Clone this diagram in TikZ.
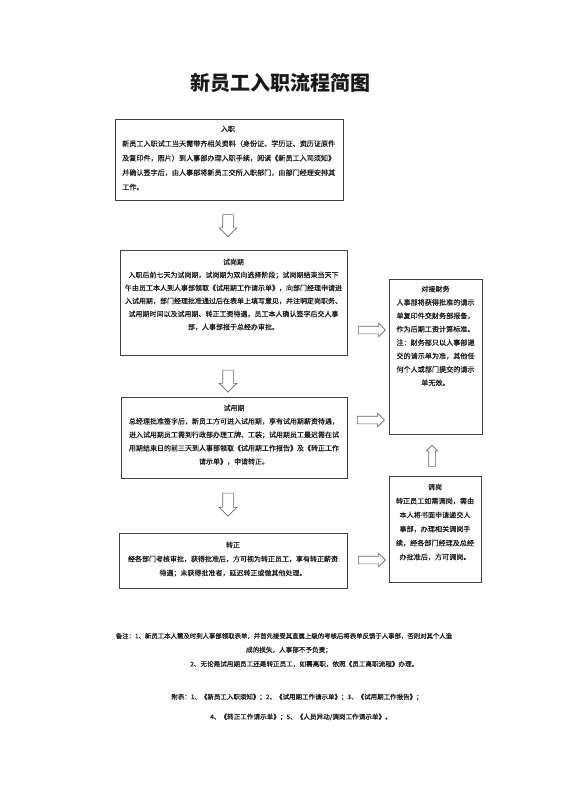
\documentclass[tikz,border=0pt]{standalone}
\usepackage{fontspec}
\setmainfont{Noto Sans CJK SC}
\newfontfamily\medfont[FakeBold=0.25]{Noto Sans CJK SC}
\usetikzlibrary{shapes.arrows}
\begin{document}
\begin{tikzpicture}[x=1pt,y=-1pt,
  box/.style={draw=black!75, line width=0.7pt, inner sep=0pt},
  txt/.style={inner sep=0pt, align=center, text=black!90},
  barrow/.style={single arrow, draw=black!60, fill=white, line width=0.6pt, inner sep=0pt, text depth=0pt, single arrow tip angle=90},
]
\useasboundingbox (0,0) rectangle (560,792);
\node[txt, font={\fontsize{20pt}{24pt}\selectfont\bfseries}] (title) at (280,83) {新员工入职流程简图};

% main boxes
\node[box, minimum width=228pt, minimum height=81pt] (b1) at (229,159.5) {};
\node[box, minimum width=227pt, minimum height=105pt] (b2) at (233.5,302.5) {};
\node[box, minimum width=226pt, minimum height=81pt] (b3) at (234,437.5) {};
\node[box, minimum width=228pt, minimum height=55pt] (b4) at (233,560.5) {};
\node[box, minimum width=93pt, minimum height=155pt] (rb1) at (435.5,356.5) {};
\node[box, minimum width=92pt, minimum height=106pt] (rb2) at (435,529) {};

% texts
\node[txt, anchor=north, font={\medfont\fontsize{7.1pt}{14.5pt}\selectfont}] (t1h) at (228,125.5) {入职};
\node[txt, anchor=north west, align=left, font={\medfont\fontsize{7.1pt}{14.5pt}\selectfont}] (t1) at (122,140) {新员工入职试工当天需带齐相关资料（身份证、学历证、资历证原件\\及复印件，照片）到人事部办理入职手续，阅读《新员工入司须知》\\并确认签字后，由人事部将新员工交所入职部门，由部门经理安排其\\工作。};

\node[txt, anchor=north, font={\medfont\fontsize{7pt}{13pt}\selectfont}] (t2) at (233.5,258.5) {试岗期\\入职后前七天为试岗期，试岗期为双向选择阶段；试岗期结束当天下\\午由员工本人到人事部领取《试用期工作请示单》，向部门经理申请进\\入试用期，部门经理批准通过后在表单上填写意见，并注明定岗职务、\\试用期时间以及试用期、转正工资待遇，员工本人确认签字后交人事\\部，人事部报于总经办审批。};

\node[txt, anchor=north, font={\medfont\fontsize{7pt}{13.4pt}\selectfont}] (t3) at (234,404.5) {试用期\\总经理批准签字后，新员工方可进入试用期，享有试用期薪资待遇，\\进入试用期员工需到行政部办理工牌、工装；试用期员工最迟需在试\\用期结束日的前三天到人事部领取《试用期工作报告》及《转正工作\\请示单》，申请转正。};

\node[txt, anchor=north, font={\medfont\fontsize{7pt}{14pt}\selectfont}] (t4) at (233,541.5) {转正\\经各部门考核审批，获得批准后，方可视为转正员工，享有转正薪资\\待遇；未获得批准者，延迟转正或做其他处理。};

\node[txt, anchor=north, font={\medfont\fontsize{7.1pt}{13.4pt}\selectfont}] (rt1) at (435.5,285.5) {对接财务\\人事部将获得批准的请示\\单复印件交财务部报备，\\作为后期工资计算标准。\\注：财务部只以人事部递\\交的请示单为准，其他任\\何个人或部门提交的请示\\单无效。};

\node[txt, anchor=north, font={\medfont\fontsize{7.1pt}{14pt}\selectfont}] (rt2) at (435,483.5) {调岗\\转正员工如需调岗，需由\\本人将书面申请递交人\\事部，办理相关调岗手\\续，经各部门经理及总经\\办批准后，方可调岗。};

% block arrows
\node[barrow, text height=10pt, minimum height=22pt, single arrow head extend=3.5pt, rotate=-90] (a1) at (228,223) {};
\node[barrow, text height=10pt, minimum height=22pt, single arrow head extend=3.5pt, rotate=-90] (a2) at (228,378.5) {};
\node[barrow, text height=10pt, minimum height=23pt, single arrow head extend=3.5pt, rotate=-90] (a3) at (228,502) {};
\node[barrow, text height=7pt, minimum height=27pt, single arrow head extend=3pt] (r1) at (370,330) {};
\node[barrow, text height=7pt, minimum height=27pt, single arrow head extend=3pt] (r2) at (369,420) {};
\node[barrow, text height=7pt, minimum height=27pt, single arrow head extend=3pt] (r3) at (370,560) {};
\node[barrow, text height=6pt, minimum height=21pt, single arrow head extend=2.5pt, rotate=90] (u1) at (432,457.5) {};

% notes
\node[txt, font={\medfont\fontsize{6.4pt}{8pt}\selectfont}] (n1) at (284,636) {备注：1、新员工本人需及时到人事部领取表单，并首先接受其直属上级的考核后将表单反馈于人事部，否则对其个人造};
\node[txt, font={\medfont\fontsize{6.6pt}{8pt}\selectfont}] (n2) at (289,650) {成的损失，人事部不予负责；};
\node[txt, anchor=west, font={\medfont\fontsize{6.6pt}{8pt}\selectfont}] (n3) at (190,664) {2、无论是试用期员工还是转正员工，如需离职，依照《员工离职流程》办理。};
\node[txt, font={\medfont\fontsize{6.5pt}{8pt}\selectfont}] (f1) at (297,697) {附表：1、《新员工入职须知》；2、《试用期工作请示单》；3、《试用期工作报告》；};
\node[txt, font={\medfont\fontsize{6.6pt}{8pt}\selectfont}] (f2) at (301,717) {4、《转正工作请示单》；5、《人员异动/调岗工作请示单》。};
\end{tikzpicture}
\end{document}
